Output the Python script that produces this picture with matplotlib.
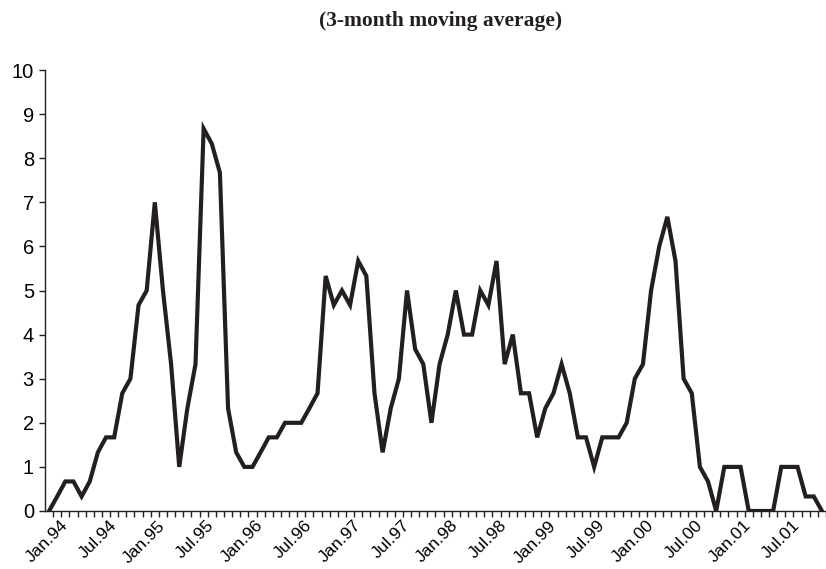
import numpy as np
import matplotlib.pyplot as plt
from matplotlib.transforms import ScaledTranslation

# Monthly series, Jan.94 - Dec.01 (3-month moving average)
years = ['94', '95', '96', '97', '98', '99', '00', '01']

values = [0, 0.33, 0.67, 0.67, 0.33, 0.67, 1.33, 1.67, 1.67, 2.67, 3, 4.67,      # 1994
          5, 7, 5, 3.33, 1, 2.33, 3.33, 8.67, 8.33, 7.67, 2.33, 1.33,           # 1995
          1, 1, 1.33, 1.67, 1.67, 2, 2, 2, 2.33, 2.67, 5.33, 4.67,              # 1996
          5, 4.67, 5.67, 5.33, 2.67, 1.33, 2.33, 3, 5, 3.67, 3.33, 2,           # 1997
          3.33, 4, 5, 4, 4, 5, 4.67, 5.67, 3.33, 4, 2.67, 2.67,                 # 1998
          1.67, 2.33, 2.67, 3.33, 2.67, 1.67, 1.67, 1, 1.67, 1.67, 1.67, 2,     # 1999
          3, 3.33, 5, 6, 6.67, 5.67, 3, 2.67, 1, 0.67, 0, 1,                    # 2000
          1, 1, 0, 0, 0, 0, 1, 1, 1, 0.33, 0.33, 0]                             # 2001

# Labels every 6 months
tick_labels = [m + '.' + y for y in years for m in ('Jan', 'Jul')]

dpi = 100
fig = plt.figure(figsize=(8.26, 5.69), dpi=dpi)
ax = fig.add_axes([45 / 826, 58 / 569, 781 / 826, 441 / 569])

x = np.arange(len(values))
ax.plot(x, values, color='#231f20', linewidth=3.0, solid_joinstyle='miter')

ax.set_xlim(-0.5, len(values) - 0.55)
ax.set_ylim(0, 10)

# Axes styling (only left and bottom lines)
for side in ('top', 'right'):
    ax.spines[side].set_visible(False)
for side in ('left', 'bottom'):
    ax.spines[side].set_color('#231f20')
    ax.spines[side].set_linewidth(1.0)

ax.set_yticks(np.arange(0, 11, 1))
ax.set_yticklabels([str(v) for v in range(11)], fontsize=14.5, family='Liberation Sans')
ax.tick_params(axis='y', direction='out', length=4, width=1, color='#231f20', pad=4)

# Month tick marks between categories, labels every 6 months
ax.set_xticks(np.arange(len(values)) + 0.5, minor=True)
ax.tick_params(axis='x', which='minor', direction='out', length=4, width=1, color='#231f20')
ax.set_xticks(np.arange(0, len(values), 6))
ax.set_xticklabels(tick_labels, rotation=45, ha='right', rotation_mode='anchor',
                   fontsize=12.5, family='Liberation Sans')
ax.tick_params(axis='x', which='major', length=0, pad=5)
shift = ScaledTranslation(11 / dpi, 0, fig.dpi_scale_trans)
for lbl in ax.get_xticklabels():
    lbl.set_transform(lbl.get_transform() + shift)

fig.text(0.533, 0.963, '(3-month moving average)', ha='center', va='center',
         fontsize=15.5, fontweight='bold', family='Liberation Serif', color='#231f20')

fig.savefig('out.png', dpi=dpi)
